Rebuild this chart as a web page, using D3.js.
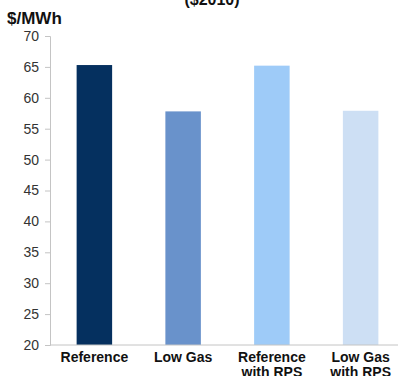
<!DOCTYPE html>
<html>
<head>
<meta charset="utf-8">
<script src="https://cdn.jsdelivr.net/npm/d3@7/dist/d3.min.js"></script>
<style>
  html, body { margin: 0; padding: 0; background: #fff; }
  svg { display: block; }
</style>
</head>
<body>
<svg id="chart" width="398" height="376"></svg>
<script>
// Levelized cost by scenario, $/MWh ($2010)
const categories = [["Reference"], ["Low Gas"], ["Reference", "with RPS"], ["Low Gas", "with RPS"]];
const values = [65.3, 57.8, 65.2, 57.9];
const colors = ["#05305f", "#6992cb", "#9ecbf8", "#cddff4"];
const yTicks = [20, 25, 30, 35, 40, 45, 50, 55, 60, 65, 70];

const svg = d3.select("#chart");
const font = "'Liberation Sans', Arial, sans-serif";

const x = d3.scaleBand().domain(d3.range(categories.length)).range([50, 405]).paddingInner(0.6).paddingOuter(0.3);
const y = d3.scaleLinear().domain([20, 70]).range([345, 36]);

// title (partly above the visible area)
svg.append("text").attr("x", 212).attr("y", 5)
  .attr("text-anchor", "middle").attr("font-family", font)
  .attr("font-weight", "bold").attr("font-size", 16).attr("fill", "#111")
  .text("($2010)");

// unit label
svg.append("text").attr("x", 7).attr("y", 24)
  .attr("font-family", font).attr("font-weight", "bold")
  .attr("font-size", 17).attr("fill", "#111").text("$/MWh");

// bars
svg.append("g").selectAll("rect").data(values).join("rect")
  .attr("x", (d, i) => x(i))
  .attr("width", x.bandwidth())
  .attr("y", d => y(d))
  .attr("height", d => y(20) - y(d))
  .attr("fill", (d, i) => colors[i]);

// y axis
const yAxis = svg.append("g").attr("transform", "translate(50,0)")
  .call(d3.axisLeft(y).tickValues(yTicks).tickSize(5).tickPadding(6));
yAxis.select(".domain").attr("stroke", "#c4c4c4");
yAxis.selectAll(".tick line").attr("stroke", "#c4c4c4");
yAxis.selectAll(".tick text").attr("font-family", font).attr("font-size", 14)
  .attr("fill", "#333");

// baseline
svg.append("line").attr("x1", 50).attr("x2", 398)
  .attr("y1", y(20)).attr("y2", y(20)).attr("stroke", "#c4c4c4");

// category labels
const labels = svg.append("g").selectAll("text").data(categories).join("text")
  .attr("text-anchor", "middle").attr("font-family", font)
  .attr("font-weight", "bold").attr("font-size", 14).attr("fill", "#111")
  .attr("transform", (d, i) => `translate(${x(i) + x.bandwidth() / 2},0)`);
labels.selectAll("tspan").data(d => d).join("tspan")
  .attr("x", 0).attr("y", (d, j) => 362 + j * 15).text(d => d);
</script>
</body>
</html>
